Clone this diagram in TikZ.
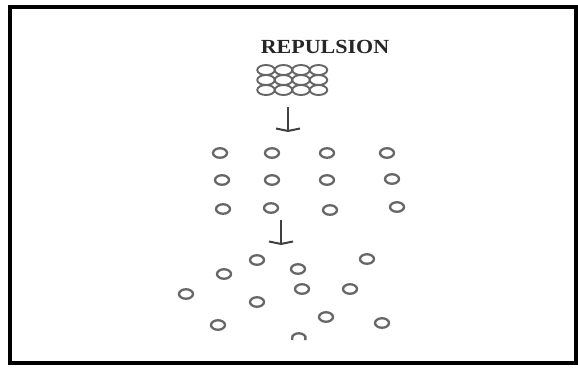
\documentclass[tikz,border=0pt]{standalone}
\usepackage{fontspec}
\setmainfont{Liberation Serif}
\usetikzlibrary{shapes.geometric,arrows.meta}
\begin{document}
\begin{tikzpicture}[x=1pt,y=-1pt,
  ring/.style={draw=black!60,line width=2.3pt,ellipse,inner sep=0pt,minimum width=14pt,minimum height=9.5pt},
  packed/.style={draw=black!60,line width=1.9pt,ellipse,inner sep=0pt,minimum width=17.5pt,minimum height=10pt},
  flowarrow/.style={draw=black!75,line width=1.8pt,-{Straight Barb[length=2.5pt,width=24pt,line width=2pt]}},
  title/.style={font=\bfseries\fontsize{20}{24}\selectfont,text=black!85,xscale=1.1}]
\useasboundingbox (0,0) rectangle (578,368);
\fill[white] (0,0) rectangle (578,368);
\draw[line width=4.5pt] (10,7) rectangle (576,363);
\node[title] (t) at (325,47) {REPULSION};
% packed cluster
\foreach \r/\y in {1/70,2/80,3/90}{
  \foreach \c/\x in {1/266,2/283.5,3/301,4/318.5}{
    \node[packed] (p\r\c) at (\x,\y) {};
  }
}
% arrows
\coordinate (a1s) at (288,107);
\coordinate (a1e) at (288,132);
\draw[flowarrow] (a1s) -- (a1e);
\coordinate (a2s) at (281,220);
\coordinate (a2e) at (281,245);
\draw[flowarrow] (a2s) -- (a2e);
% middle grid
\node[ring] (m11) at (220,153) {};
\node[ring] (m12) at (272,153) {};
\node[ring] (m13) at (327,153) {};
\node[ring] (m14) at (387,153) {};
\node[ring] (m21) at (222,180) {};
\node[ring] (m22) at (272,180) {};
\node[ring] (m23) at (327,180) {};
\node[ring] (m24) at (392,179) {};
\node[ring] (m31) at (223,209) {};
\node[ring] (m32) at (271,208) {};
\node[ring] (m33) at (330,210) {};
\node[ring] (m34) at (397,207) {};
% scattered
\node[ring] (s1) at (257,260) {};
\node[ring] (s2) at (224,274) {};
\node[ring] (s3) at (298,269) {};
\node[ring] (s4) at (367,259) {};
\node[ring] (s5) at (186,294) {};
\node[ring] (s6) at (302,289) {};
\node[ring] (s7) at (350,289) {};
\node[ring] (s8) at (257,302) {};
\node[ring] (s9) at (326,317) {};
\node[ring] (s10) at (218,325) {};
\node[ring] (s11) at (382,323) {};
\coordinate (s12) at (299,337);
\draw[draw=black!60,line width=2.3pt] ([shift={(-6.8,3)}]s12) arc[start angle=200,end angle=-20,x radius=7pt,y radius=5pt];
\end{tikzpicture}
\end{document}
